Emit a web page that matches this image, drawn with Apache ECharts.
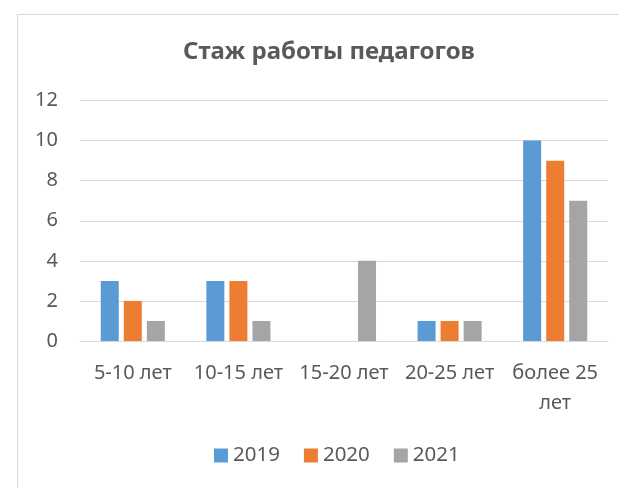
<!DOCTYPE html>
<html>
<head>
<meta charset="utf-8">
<script src="https://cdn.jsdelivr.net/npm/echarts@6/dist/echarts.min.js"></script>
<style>
html,body{margin:0;padding:0;background:#fff;}
#c{width:619px;height:488px;}
</style>
</head>
<body>
<div id="c"></div>
<script>
const titleText = 'Стаж работы педагогов';
const categories = ['5-10 лет', '10-15 лет', '15-20 лет', '20-25 лет', 'более 25 лет'];
const seriesNames = ['2019', '2020', '2021'];
const values2019 = [3, 3, 0, 1, 10];
const values2020 = [2, 3, 0, 1, 9];
const values2021 = [1, 1, 4, 1, 7];
const yTicks = [0, 2, 4, 6, 8, 10, 12];
const colors = ['#5B9BD5', '#ED7D31', '#A5A5A5'];

const font = 'Noto Sans';
const chart = echarts.init(document.getElementById('c'), null, {renderer: 'canvas'});
const allValues = [values2019, values2020, values2021];
chart.setOption({
  animation: false,
  backgroundColor: '#ffffff',
  graphic: [{
    type: 'rect', left: 15, top: 12, shape: {width: 800, height: 700},
    style: {fill: 'none', stroke: '#D9D9D9', lineWidth: 1}, silent: true
  }],
  title: {
    text: titleText, left: 178, top: 35,
    textStyle: {fontFamily: font, fontWeight: 'bold', fontSize: 24, color: '#595959'}
  },
  legend: {
    data: seriesNames, top: 440, left: 209, itemWidth: 14, itemHeight: 14, itemGap: 24,
    icon: 'rect',
    textStyle: {fontFamily: font, fontSize: 20.5, color: '#595959'}
  },
  grid: {left: 80, right: 11, top: 100.5, bottom: 147, containLabel: false},
  xAxis: {
    type: 'category', data: categories,
    axisLine: {lineStyle: {color: '#D9D9D9', width: 1}},
    axisTick: {show: false},
    axisLabel: {
      interval: 0, margin: 17, fontFamily: font, fontSize: 20, color: '#595959', lineHeight: 30,
      formatter: v => v.length > 10 ? v.replace(/ (\S+)$/, '\n$1') : v
    }
  },
  yAxis: {
    type: 'value', min: yTicks[0], max: yTicks[yTicks.length - 1], interval: 2,
    axisLine: {show: false}, axisTick: {show: false},
    splitLine: {lineStyle: {color: '#D9D9D9', width: 1}},
    axisLabel: {margin: 22, fontFamily: font, fontSize: 20, color: '#595959'}
  },
  series: seriesNames.map((n, i) => ({
    name: n, type: 'bar', data: allValues[i], barWidth: 18, barGap: '28%',
    itemStyle: {color: colors[i]}
  }))
});
</script>
</body>
</html>
